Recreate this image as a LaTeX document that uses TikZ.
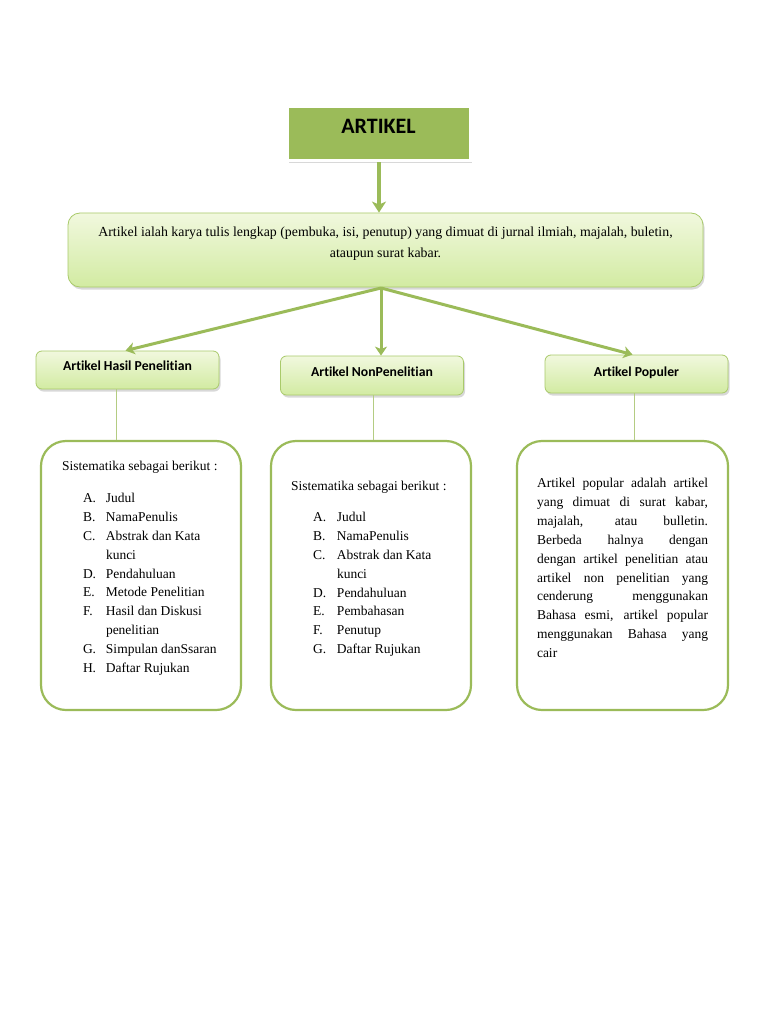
\documentclass[tikz,border=0pt]{standalone}
\usepackage{fontspec}
\setmainfont{Liberation Serif}
\newfontfamily\carlito[Ligatures=NoCommon]{Carlito}
\usetikzlibrary{shadows,arrows.meta,calc}
\definecolor{og}{HTML}{9BBB59}
\definecolor{boxtop}{HTML}{F1F8DE}
\definecolor{boxbot}{HTML}{D2EBA2}
\definecolor{boxline}{HTML}{A9CA6A}
\newcommand{\itm}[2]{\hspace*{21pt}\makebox[23pt][l]{#1}#2}
\newcommand{\itmb}[2]{\hspace*{22pt}\makebox[24pt][l]{#1}#2}
\newcommand{\jl}[1]{\makebox[171pt][s]{#1}}
\newcommand{\normspace}{\spaceskip=0pt\xspaceskip=0pt}
\newcommand{\fixspace}{\spaceskip=\fontdimen2\font\xspaceskip=\fontdimen2\font}
\begin{document}
\begin{tikzpicture}[x=1pt,y=-1pt,
  softshadow/.style={drop shadow={opacity=0.3,shadow xshift=1.5pt,shadow yshift=-2.5pt}},
  titlebox/.style={rectangle, fill=og, draw=white, line width=3pt, softshadow,
    minimum width=183pt, inner xsep=0pt, inner ysep=0pt,
    font=\carlito\bfseries\fontsize{22}{26}\selectfont, text=black},
  gradbox/.style={rectangle, top color=boxtop, bottom color=boxbot, draw=boxline,
    line width=0.8pt, softshadow, inner ysep=0pt, anchor=base},
  catbox/.style={gradbox, rounded corners=6pt, minimum width=183pt, inner xsep=0pt,
    font=\carlito\bfseries\fontsize{13.7}{16}\selectfont},
  listbox/.style={rectangle, draw=og, line width=2.2pt, fill=white, rounded corners=25pt,
    inner ysep=0pt, align=left, anchor=base, font=\fontsize{13.5}{18.9}\selectfont},
  bigarrow/.style={draw=og, line width=3.5pt, -{Stealth[length=11pt,width=14pt,inset=3pt]}},
  midarrow/.style={draw=og, line width=3pt, -{Stealth[length=9pt,width=12pt,inset=2.5pt]}},
  thinline/.style={draw=og!75, line width=1pt}
]
\useasboundingbox (0,0) rectangle (768,1024);
\fill[white] (0,0) rectangle (768,1024);

% title
\node[titlebox, text height=27pt, text depth=27pt, anchor=base] (title) at (378.5,134) {ARTIKEL};

% main definition box
\node[gradbox, rounded corners=12pt, minimum width=635pt, text width=625pt, align=center,
  inner xsep=5pt, text height=23.5pt, text depth=50.5pt, font=\fontsize{13.85}{21}\selectfont]
  (main) at (385.5,236.5)
  {\fixspace Artikel ialah karya tulis lengkap (pembuka, isi, penutup) yang dimuat di jurnal ilmiah, majalah, buletin,\\ ataupun surat kabar.};

% category boxes
\node[catbox, text height=19.5pt, text depth=18.5pt] (catA) at (127.5,370.5) {Artikel Hasil Penelitian};
\node[catbox, text height=20.5pt, text depth=18.5pt] (catB) at (372,376.5) {Artikel NonPenelitian};
\node[catbox, text height=21.5pt, text depth=16.5pt] (catC) at (636.5,376.5) {Artikel Populer};

% detail boxes
\node[listbox, minimum width=200pt, inner xsep=21pt, text width=158pt,
  text height=29.5pt, text depth=239.5pt] (detA) at (141,470.5)
  {\fixspace Sistematika sebagai berikut :\\[13pt]
   \itm{A.}{Judul}\\
   \itm{B.}{NamaPenulis}\\
   \itm{C.}{Abstrak dan Kata}\\
   \itm{}{kunci}\\
   \itm{D.}{Pendahuluan}\\
   \itm{E.}{Metode Penelitian}\\
   \itm{F.}{Hasil dan Diskusi}\\
   \itm{}{penelitian}\\
   \itm{G.}{Simpulan danSsaran}\\
   \itm{H.}{Daftar Rujukan}};

\node[listbox, minimum width=200pt, inner xsep=20pt, text width=160pt,
  text height=49.5pt, text depth=219.5pt] (detB) at (371,490.5)
  {\fixspace Sistematika sebagai berikut :\\[12pt]
   \itmb{A.}{Judul}\\
   \itmb{B.}{NamaPenulis}\\
   \itmb{C.}{Abstrak dan Kata}\\
   \itmb{}{kunci}\\
   \itmb{D.}{Pendahuluan}\\
   \itmb{E.}{Pembahasan}\\
   \itmb{F.}{Penutup}\\
   \itmb{G.}{Daftar Rujukan}};

\node[listbox, minimum width=211pt, inner xsep=20pt, text width=171pt,
  text height=46.5pt, text depth=222.5pt] (detC) at (622.5,487.5)
  {\normspace\jl{Artikel popular adalah artikel}\\
   \jl{yang dimuat di surat kabar,}\\
   \jl{majalah, atau bulletin.}\\
   \jl{Berbeda halnya dengan}\\
   \jl{dengan artikel penelitian atau}\\
   \jl{artikel non penelitian yang}\\
   \jl{cenderung menggunakan}\\
   \jl{Bahasa esmi, artikel popular}\\
   \jl{menggunakan Bahasa yang}\\
   cair};

% connectors
\coordinate (hub) at (381,288);
\coordinate (colT) at (379,0);
\coordinate (colA) at (116,0);
\coordinate (colB) at (373,0);
\coordinate (colC) at (634,0);
\coordinate (arrB) at (381,0);

\draw[bigarrow] (title.south -| colT) -- (main.north -| colT);
\draw[midarrow] (hub) -- ($(catA.north)+(-2,0)$);
\draw[midarrow] (hub) -- (catB.north -| arrB);
\draw[midarrow] (hub) -- ($(catC.north)+(-4,0)$);

\draw[thinline] (catA.south -| colA) -- (detA.north -| colA);
\draw[thinline] (catB.south -| colB) -- (detB.north -| colB);
\draw[thinline] (catC.south -| colC) -- (detC.north -| colC);
\end{tikzpicture}
\end{document}
